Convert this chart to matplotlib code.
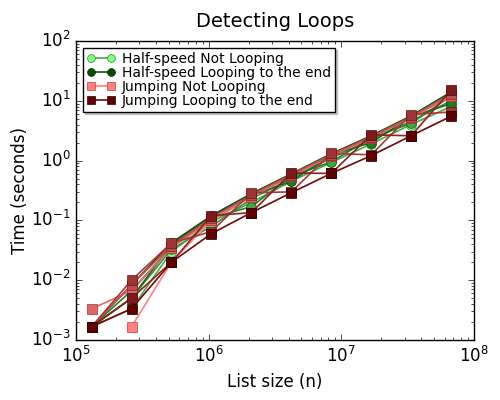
import numpy as np
import matplotlib
matplotlib.use('Agg')
import matplotlib.pyplot as plt
from matplotlib.colors import to_rgb

plt.style.use('classic')

nan = np.nan

# tamanhos das listas (2^17 .. 2^26)
sizes = [131072, 262144, 524288, 1048576, 2097152, 4194304,
         8388608, 16777216, 33554432, 67108864]

# tempos (s) - half-speed, do "not looping" ate "looping to the end"
half_speed = [
    [0.00167, 0.00333, 0.030, 0.095, 0.20, 0.45, 0.93, 1.90, 4.0, 8.0],
    [0.00167, 0.00500, 0.033, 0.080, 0.23, 0.50, 1.10, 2.20, 4.6, 10.0],
    [0.00167, 0.00667, 0.036, 0.110, 0.17, 0.55, 0.95, 2.40, 4.2, 12.0],
    [0.00167, 0.00500, 0.040, 0.115, 0.26, 0.45, 1.25, 2.00, 5.4, 9.0],
    [0.00167, 0.00833, 0.042, 0.120, 0.28, 0.60, 1.30, 2.60, 5.6, 14.0],
]

# tempos (s) - jumping (nan = tempo zero, nao aparece em escala log)
jumping = [
    [nan, 0.00167, 0.020, 0.100, 0.250, 0.55, 1.20, 2.40, 5.2, 12.0],
    [0.00333, 0.00667, 0.035, 0.100, 0.250, 0.55, 1.20, 2.40, 5.2, 12.0],
    [0.00167, 0.00833, 0.038, 0.110, 0.265, 0.58, 1.25, 2.50, 5.4, 13.0],
    [0.00167, 0.01000, 0.042, 0.065, 0.290, 0.30, 1.32, 1.25, 5.9, 6.5],
    [0.00167, 0.00500, 0.020, 0.120, 0.135, 0.62, 0.61, 2.70, 2.6, 15.0],
    [0.00167, 0.00333, 0.020, 0.060, 0.135, 0.29, 0.61, 1.21, 2.6, 5.5],
]

labels = ['Half-speed Not Looping', 'Half-speed Looping to the end',
          'Jumping Not Looping', 'Jumping Looping to the end']


def mix(c1, c2, t):
    a, b = np.array(to_rgb(c1)), np.array(to_rgb(c2))
    return tuple(a + (b - a) * t)


fig = plt.figure(figsize=(5, 4), dpi=100)
ax = fig.add_axes([0.152, 0.15, 0.796, 0.7475])

n = len(half_speed)
for i, ys in enumerate(half_speed):
    t = i / (n - 1)
    c = mix('#80ff80', '#005000', t)
    ec = mix('#209020', '#002000', t)
    lab = labels[0] if i == 0 else (labels[1] if i == n - 1 else None)
    ax.plot(sizes, ys, '-o', color=mix('#60d060', '#105010', 0.3 + 0.7 * t),
            mfc=c, mec=ec, ms=7, lw=1.2, label=lab)

n = len(jumping)
for i, ys in enumerate(jumping):
    t = i / (n - 1)
    c = mix('#ff8080', '#600000', t)
    ec = mix('#c04040', '#200000', t)
    lab = labels[2] if i == 0 else (labels[3] if i == n - 1 else None)
    ax.plot(sizes, ys, '-s', color=mix('#ff8080', '#700808', t), mfc=c, mec=ec,
            ms=7, lw=1.2, label=lab)

ax.set_xscale('log')
ax.set_yscale('log')
ax.set_xlim(1e5, 1e8)
ax.set_ylim(1e-3, 1e2)
ax.set_title('Detecting Loops', fontsize=14, pad=10)
ax.set_xlabel('List size (n)', fontsize=12)
ax.set_ylabel('Time (seconds)', fontsize=12, labelpad=1)
ax.tick_params(labelsize=12)
ax.legend(loc='upper left', fontsize=10, numpoints=2, markerscale=0.8,
          shadow={'ox': 1.5, 'oy': -1.5, 'color': '0.6'},
          labelspacing=0.0, borderpad=0.3, handletextpad=0.5)

fig.savefig('out.png', dpi=100)
